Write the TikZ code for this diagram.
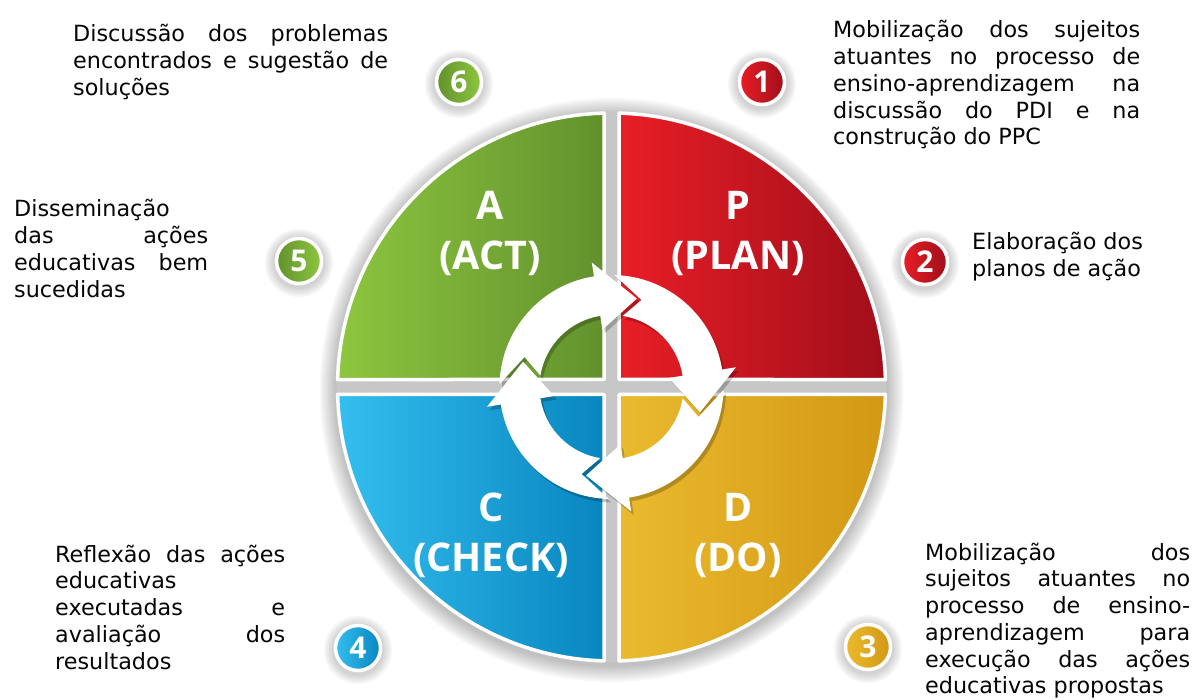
\documentclass[tikz,border=0pt]{standalone}
\usepackage{fontspec}
\setmainfont{DejaVu Sans}
\newfontfamily\labfont{Open Sans}
\usetikzlibrary{calc}
\definecolor{gL}{RGB}{141,198,63}
\definecolor{gR}{RGB}{98,145,45}
\definecolor{rL}{RGB}{232,30,38}
\definecolor{rR}{RGB}{160,14,26}
\definecolor{bL}{RGB}{52,190,238}
\definecolor{bR}{RGB}{8,134,192}
\definecolor{yL}{RGB}{234,186,46}
\definecolor{yR}{RGB}{211,152,20}
\definecolor{txt}{RGB}{5,5,5}
\tikzset{
  quad/.style={draw=white, line width=3.5pt, line join=round},
  biglab/.style={font=\labfont\bfseries\fontsize{39.5}{50}\selectfont, text=white, inner sep=0pt},
  numc/.style={circle, minimum size=45pt, inner sep=0pt, draw=white, line width=3.5pt,
    font=\labfont\bfseries\fontsize{30}{32}\selectfont, text=white},
  body/.style={font=\fontsize{22.3}{26.75}\selectfont, text=txt, inner sep=0pt, anchor=base west}
}
\begin{document}
\begin{tikzpicture}[x=1pt,y=1pt]
\useasboundingbox (0,0) rectangle (1196,699);
\coordinate (C) at (611.5,312);
% halo of the disk
\foreach \i in {1,...,10}
  \fill[black,opacity=0.026] (611.5,309) circle ({275+1.7*\i});
\fill[black!22] (C) circle (275);
\begin{scope}[shift={(C)}]
  \def\R{274}\def\g{7.5}\def\a{1.568}
  % green (A)
  \shadedraw[quad, left color=gL, right color=gR] (-\g,\g) -- ({180-\a}:\R)
     arc[start angle={180-\a}, end angle={90+\a}, radius=\R] -- cycle;
  % red (P)
  \shadedraw[quad, left color=rL, right color=rR] (\g,\g) -- ({90-\a}:\R)
     arc[start angle={90-\a}, end angle=\a, radius=\R] -- cycle;
  % gold (D)
  \shadedraw[quad, left color=yL, right color=yR] (\g,-\g) -- ({-\a}:\R)
     arc[start angle={-\a}, end angle={-90+\a}, radius=\R] -- cycle;
  % blue (C)
  \shadedraw[quad, left color=bL, right color=bR] (-\g,-\g) -- ({-90-\a}:\R)
     arc[start angle={-90-\a}, end angle={-180+\a}, radius=\R] -- cycle;
  % arrow shadows
  \foreach \t in {74,-16,-106,164}{
    \pgfmathsetmacro\ao{\t+104.5}
    \pgfmathsetmacro\hb{\t+25}
    \pgfmathsetmacro\ai{\t+97}
    \pgfmathsetmacro\nv{\t+87}
    \fill[black,opacity=.22,shift={(2.5,-3.5)}] (\ao:112) arc[start angle=\ao,end angle=\hb,radius=112]
      -- (\hb:126) -- (\t:92) -- (\hb:58) -- (\hb:72)
      arc[start angle=\hb,end angle=\ai,radius=72] -- (\nv:92) -- cycle;
  }
  % arrows
  \foreach \t in {74,-16,-106,164}{
    \pgfmathsetmacro\ao{\t+104.5}
    \pgfmathsetmacro\hb{\t+25}
    \pgfmathsetmacro\ai{\t+97}
    \pgfmathsetmacro\nv{\t+87}
    \fill[white] (\ao:112) arc[start angle=\ao,end angle=\hb,radius=112]
      -- (\hb:126) -- (\t:92) -- (\hb:58) -- (\hb:72)
      arc[start angle=\hb,end angle=\ai,radius=72] -- (\nv:92) -- cycle;
  }
\end{scope}
% big labels
\node[biglab, anchor=base] (lA) at (490,479) {\begin{tabular}[t]{@{}c@{}}A\\(ACT)\end{tabular}};
\node[biglab, anchor=base] (lP) at (738,479) {\begin{tabular}[t]{@{}c@{}}P\\(PLAN)\end{tabular}};
\node[biglab, anchor=base] (lC) at (491,178) {\begin{tabular}[t]{@{}c@{}}C\\(CHECK)\end{tabular}};
\node[biglab, anchor=base] (lD) at (738,178) {\begin{tabular}[t]{@{}c@{}}D\\(DO)\end{tabular}};
% number circle halos
\foreach \px/\py in {459/617,762/617,925/437,299/438,358/51,868/52}{
  \foreach \i in {1,...,6}
    \fill[black,opacity=0.03] (\px,{\py-2}) circle ({24.5+1.6*\i});
}
\node[numc, left color=gR, right color=gL] (n6) at (459,617) {6};
\node[numc, left color=rL, right color=rR] (n1) at (762,617) {1};
\node[numc, left color=rL, right color=rR] (n2) at (925,437) {2};
\node[numc, left color=gR, right color=gL] (n5) at (299,438) {5};
\node[numc, left color=bL, right color=bR] (n4) at (358,51) {4};
\node[numc, left color=yL, right color=yR] (n3) at (868,52) {3};
% texts
\node[body] (t6) at (73,657) {\begin{tabular}[t]{@{}l@{}}
\makebox[315pt][s]{Discussão dos problemas}\\
\makebox[315pt][s]{encontrados e sugestão de}\\
soluções\end{tabular}};
\node[body] (t5) at (14,482) {\begin{tabular}[t]{@{}l@{}}
Disseminação\\
\makebox[194pt][s]{das ações}\\
\makebox[194pt][s]{educativas bem}\\
sucedidas\end{tabular}};
\node[body] (t1) at (833,661) {\begin{tabular}[t]{@{}l@{}}
\makebox[307pt][s]{Mobilização dos sujeitos}\\
\makebox[307pt][s]{atuantes no processo de}\\
\makebox[307pt][s]{ensino-aprendizagem na}\\
\makebox[307pt][s]{discussão do PDI e na}\\
construção do PPC\end{tabular}};
\node[body] (t2) at (972,449) {\begin{tabular}[t]{@{}l@{}}
Elaboração dos\\
planos de ação\end{tabular}};
\node[body] (t4) at (55,137) {\begin{tabular}[t]{@{}l@{}}
\makebox[230pt][s]{Reflexão das ações}\\
educativas\\
\makebox[230pt][s]{executadas e}\\
\makebox[230pt][s]{avaliação dos}\\
resultados\end{tabular}};
\node[body] (t3) at (925,139) {\begin{tabular}[t]{@{}l@{}}
\makebox[265pt][s]{Mobilização dos}\\
\makebox[265pt][s]{sujeitos atuantes no}\\
\makebox[265pt][s]{processo de ensino-}\\
\makebox[265pt][s]{aprendizagem para}\\
\makebox[265pt][s]{execução das ações}\\
educativas propostas\end{tabular}};
\end{tikzpicture}
\end{document}
